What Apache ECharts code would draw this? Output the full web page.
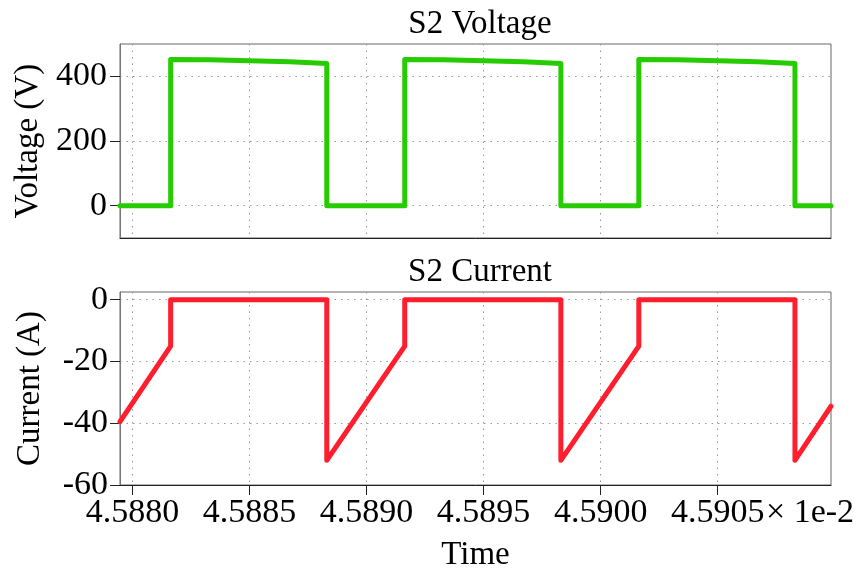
<!DOCTYPE html>
<html>
<head>
<meta charset="utf-8">
<script src="https://cdn.jsdelivr.net/npm/echarts@6/dist/echarts.min.js"></script>
<style>
html,body{margin:0;padding:0;background:#fff;}
#chart{width:864px;height:573px;}
</style>
</head>
<body>
<div id="chart"></div>
<script>
// Time in units of 1e-2 s
var timeTicks = [4.5880, 4.5885, 4.5890, 4.5895, 4.5900, 4.5905];
var timeMin = 4.5879466;
var timeMax = 4.590984;

var voltTicks = [0, 200, 400];
var currTicks = [-60, -40, -20, 0];

var voltTime = [4.5879466, 4.588163, 4.588163, 4.58833, 4.58850, 4.58867, 4.588830, 4.588830,
                4.589163, 4.589163, 4.58933, 4.58950, 4.58967, 4.589830, 4.589830,
                4.590163, 4.590163, 4.59033, 4.59050, 4.59067, 4.590830, 4.590830, 4.590984];
var voltVal  = [0, 0, 452, 451, 448, 445, 440, 0,
                0, 452, 451, 448, 445, 440, 0,
                0, 452, 451, 448, 445, 440, 0, 0];

var currTime = [4.5879466, 4.588163, 4.588163, 4.588830, 4.588830, 4.589163, 4.589163,
                4.589830, 4.589830, 4.590163, 4.590163, 4.590830, 4.590830, 4.590984];
var currVal  = [-39.5, -15, 0, 0, -52, -15, 0, 0, -52, -15, 0, 0, -52, -34.5];

function zip(a, b) { return a.map(function (v, i) { return [v, b[i]]; }); }

var FONT = 'Liberation Serif';
var gridLine = { show: true, lineStyle: { color: '#999', type: [1.5, 5], width: 1 } };

var chart = echarts.init(document.getElementById('chart'), null, { renderer: 'canvas' });
chart.setOption({
  backgroundColor: '#fff',
  animation: false,
  title: [
    { text: 'S2 Voltage', left: 475, top: 3, textAlign: 'center',
      textStyle: { fontFamily: FONT, fontSize: 33, fontWeight: 'normal', color: '#000', lineHeight: 33 } },
    { text: 'S2 Current', left: 475, top: 251, textAlign: 'center',
      textStyle: { fontFamily: FONT, fontSize: 33, fontWeight: 'normal', color: '#000', lineHeight: 33 } }
  ],
  grid: [
    { left: 120, top: 44, right: 33, height: 194, show: true, borderColor: '#666', borderWidth: 1, containLabel: false },
    { left: 120, top: 292, right: 33, height: 193, show: true, borderColor: '#666', borderWidth: 1, containLabel: false }
  ],
  xAxis: [
    { type: 'value', gridIndex: 0, min: timeMin, max: timeMax,
      axisLine: { show: true, onZero: false, lineStyle: { color: '#222' } },
      axisTick: { show: false, customValues: timeTicks },
      axisLabel: { show: false, customValues: timeTicks },
      splitLine: gridLine },
    { type: 'value', gridIndex: 1, min: timeMin, max: timeMax,
      name: 'Time', nameLocation: 'middle', nameGap: 54,
      nameTextStyle: { fontFamily: FONT, fontSize: 33, color: '#000', lineHeight: 33 },
      axisLine: { show: true, onZero: false, lineStyle: { color: '#222' } },
      axisTick: { show: true, length: 10, customValues: timeTicks, lineStyle: { color: '#222' } },
      axisLabel: { show: true, customValues: timeTicks, margin: 11,
        fontFamily: FONT, fontSize: 34, color: '#000', lineHeight: 34,
        formatter: function (v) { return Number(v).toFixed(4); } },
      splitLine: gridLine }
  ],
  yAxis: [
    { type: 'value', gridIndex: 0, min: -100, max: 500,
      name: 'Voltage (V)', nameLocation: 'middle', nameGap: 73,
      nameTextStyle: { fontFamily: FONT, fontSize: 33, color: '#000', lineHeight: 33 },
      axisLine: { show: true, onZero: false, lineStyle: { color: '#777' } },
      axisTick: { show: true, length: 10, customValues: voltTicks, lineStyle: { color: '#222' } },
      axisLabel: { show: true, customValues: voltTicks, margin: 13,
        fontFamily: FONT, fontSize: 34, color: '#000' },
      splitLine: gridLine },
    { type: 'value', gridIndex: 1, min: -60, max: 2.5,
      name: 'Current (A)', nameLocation: 'middle', nameGap: 73,
      nameTextStyle: { fontFamily: FONT, fontSize: 33, color: '#000', lineHeight: 33 },
      axisLine: { show: true, onZero: false, lineStyle: { color: '#777' } },
      axisTick: { show: true, length: 10, customValues: currTicks, lineStyle: { color: '#222' } },
      axisLabel: { show: true, customValues: currTicks, margin: 12,
        fontFamily: FONT, fontSize: 34, color: '#000' },
      splitLine: gridLine }
  ],
  graphic: [
    { type: 'text', left: 766, top: 496,
      style: { text: '\u00d7 1e-2', fontFamily: FONT, fontSize: 34, fill: '#000' } }
  ],
  series: [
    { type: 'line', xAxisIndex: 0, yAxisIndex: 0, data: zip(voltTime, voltVal),
      showSymbol: false, symbol: 'none',
      lineStyle: { color: '#26cc00', width: 5, cap: 'round', join: 'round' } },
    { type: 'line', xAxisIndex: 1, yAxisIndex: 1, data: zip(currTime, currVal),
      showSymbol: false, symbol: 'none',
      lineStyle: { color: '#ff1e2d', width: 5, cap: 'round', join: 'round' } }
  ]
});
</script>
</body>
</html>
